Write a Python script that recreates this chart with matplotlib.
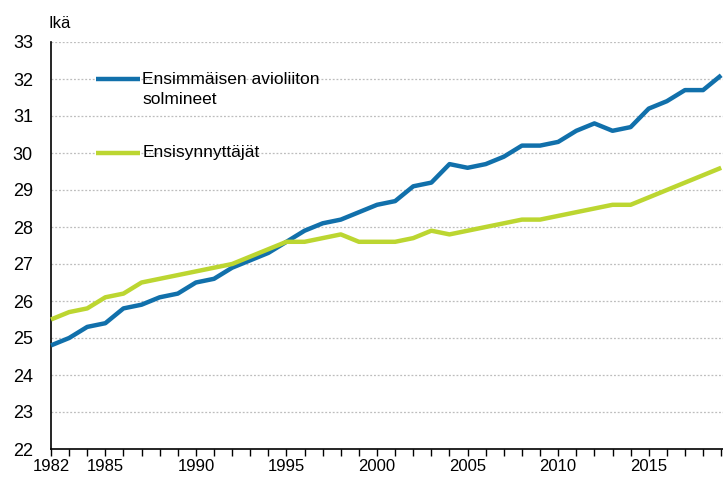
import matplotlib
matplotlib.use("Agg")
import matplotlib.pyplot as plt
import numpy as np

years = np.arange(1982, 2020)

# keskimääräinen ikä ensimmäisen avioliiton solmimishetkellä
marriage_age = [24.8, 25.0, 25.3, 25.4, 25.8, 25.9, 26.1, 26.2, 26.5, 26.6,
                26.9, 27.1, 27.3, 27.6, 27.9, 28.1, 28.2, 28.4, 28.6, 28.7,
                29.1, 29.2, 29.7, 29.6, 29.7, 29.9, 30.2, 30.2, 30.3, 30.6,
                30.8, 30.6, 30.7, 31.2, 31.4, 31.7, 31.7, 32.1]

# ensisynnyttäjien keski-ikä
birth_age = [25.5, 25.7, 25.8, 26.1, 26.2, 26.5, 26.6, 26.7, 26.8, 26.9,
             27.0, 27.2, 27.4, 27.6, 27.6, 27.7, 27.8, 27.6, 27.6, 27.6,
             27.7, 27.9, 27.8, 27.9, 28.0, 28.1, 28.2, 28.2, 28.3, 28.4,
             28.5, 28.6, 28.6, 28.8, 29.0, 29.2, 29.4, 29.6]

series_labels = ["Ensimmäisen avioliiton", "solmineet", "Ensisynnyttäjät"]
xtick_years = [1982, 1985, 1990, 1995, 2000, 2005, 2010, 2015]

BLUE = "#1170ab"
GREEN = "#bcd631"

plt.rcParams["font.family"] = ["Liberation Sans", "DejaVu Sans"]
plt.rcParams["font.size"] = 12

W, H = 723, 478
fig = plt.figure(figsize=(W / 100, H / 100), dpi=100)
ax = fig.add_axes([51 / W, (H - 449) / H, (W - 51) / W, (449 - 42) / H])

ax.plot(years, marriage_age, color=BLUE, lw=3.2, solid_capstyle="butt",
        clip_on=False, zorder=3)
ax.plot(years, birth_age, color=GREEN, lw=3.2, solid_capstyle="butt",
        clip_on=False, zorder=3)

ax.set_xlim(1982, 2019.1)
ax.set_ylim(22, 33)
ax.set_yticks(range(22, 34))
ax.set_xticks(years)
ax.set_xticklabels([str(y) if y in xtick_years else "" for y in years])
ax.tick_params(axis="x", direction="out", length=5, width=1, color="black",
               labelsize=12, pad=2)
ax.tick_params(axis="y", length=0, labelsize=13, pad=13)

for y in range(23, 34):
    ax.axhline(y, color="#bdbdbd", lw=0.9, ls=(0, (1.5, 1.5)), zorder=1)

for side in ("top", "right"):
    ax.spines[side].set_visible(False)
for side in ("left", "bottom"):
    ax.spines[side].set_color("black")
    ax.spines[side].set_linewidth(1.2)

# legend drawn in-place as in the original
px = 1 / 37.0  # one pixel in data units on y
ax.plot([1984.5, 1986.9], [32, 32], color=BLUE, lw=3.2, solid_capstyle="butt",
        zorder=4)
ax.text(1987.05, 32.0, series_labels[0], va="center", ha="left", fontsize=12.5)
ax.text(1987.05, 32.0 - 21 * px, series_labels[1], va="center", ha="left",
        fontsize=12.5)
ax.plot([1984.5, 1986.9], [30, 30], color=GREEN, lw=3.2, solid_capstyle="butt",
        zorder=4)
ax.text(1987.05, 30.0, series_labels[2], va="center", ha="left", fontsize=12.5)

fig.text(48 / W, 1 - 24 / H, "Ikä", ha="left", va="center", fontsize=12)

fig.savefig("out.png", dpi=100)
